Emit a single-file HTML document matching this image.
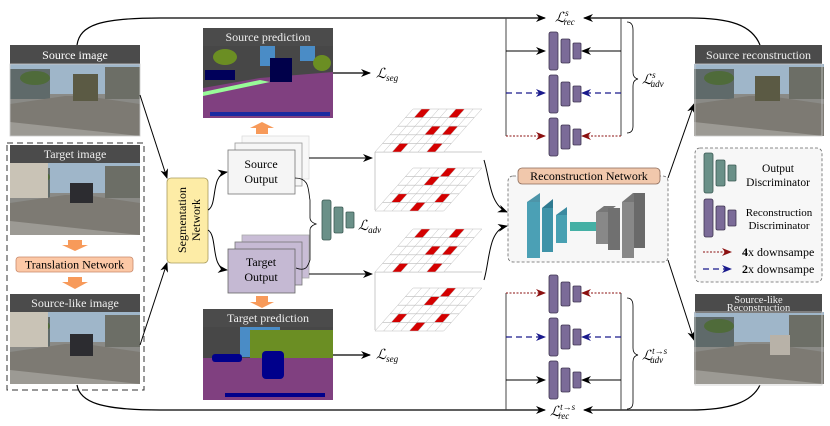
<!DOCTYPE html>
<html><head><meta charset="utf-8"><style>
html,body{margin:0;padding:0;background:#fff;}
svg{display:block;font-family:"Liberation Serif","DejaVu Serif",serif;}
</style></head><body>
<svg width="830" height="426" viewBox="0 0 830 426" xmlns="http://www.w3.org/2000/svg">
<defs>
<marker id="ah" markerWidth="10" markerHeight="8" refX="9" refY="4" orient="auto" markerUnits="userSpaceOnUse"><path d="M0,0 L10,4 L0,8 L3,4z" fill="#000"/></marker>
<marker id="ahb" markerWidth="10" markerHeight="8" refX="9" refY="4" orient="auto" markerUnits="userSpaceOnUse"><path d="M0,0 L10,4 L0,8 L3,4z" fill="#1a1a8c"/></marker>
<marker id="ahr" markerWidth="10" markerHeight="8" refX="9" refY="4" orient="auto" markerUnits="userSpaceOnUse"><path d="M0,0 L10,4 L0,8 L3,4z" fill="#8b1010"/></marker>
<g id="gridlines" stroke="#bbb" stroke-width="0.6" fill="none">
<path d="M0,0H80M0,8.6H80M0,17.2H80M0,25.8H80M0,34.4H80M0,43H80M0,0V43M10,0V43M20,0V43M30,0V43M40,0V43M50,0V43M60,0V43M70,0V43M80,0V43"/>
</g>
<g id="disc" fill="#7b6b98" stroke="#3f3550" stroke-width="0.8">
<rect x="0" y="0" width="9" height="38" rx="2"/><rect x="12" y="7" width="9" height="24" rx="1.5"/><rect x="24" y="11" width="8" height="16" rx="1"/>
</g>
<g id="odisc" fill="#6a9088" stroke="#3c5a54" stroke-width="0.8">
<rect x="0" y="0" width="9" height="40" rx="2"/><rect x="12" y="7" width="9" height="26" rx="1.5"/><rect x="24" y="12" width="8" height="16" rx="1"/>
</g>
<g id="street">
<rect width="130" height="72" fill="#8a8a86"/>
<rect width="130" height="30" fill="#9fb6c9"/>
<rect x="0" y="5" width="40" height="30" fill="#5f6a6a"/>
<rect x="95" y="3" width="35" height="32" fill="#6c6e66"/>
<ellipse cx="25" cy="14" rx="15" ry="7" fill="#4f6b3a"/>
<polygon points="0,72 0,40 55,32 75,32 130,40 130,72" fill="#7d7a73"/>
<polygon points="0,72 0,58 130,72" fill="#9c9a94"/>
</g>
</defs>

<path d="M77,45 C80,25 100,18 160,18 L545,18" stroke="#000" stroke-width="1.2" fill="none" marker-end="url(#ah)"/>
<path d="M760,45 C752,25 730,18 690,18 L584,18" stroke="#000" stroke-width="1.2" fill="none" marker-end="url(#ah)"/>
<path d="M77,385 C80,402 100,410 160,410 L545,410" stroke="#000" stroke-width="1.2" fill="none" marker-end="url(#ah)"/>
<path d="M760,385 C752,402 730,410 690,410 L584,410" stroke="#000" stroke-width="1.2" fill="none" marker-end="url(#ah)"/>

<rect x="10" y="45" width="130" height="19" fill="#4b4b4b"/>
<text x="75" y="59" font-size="12" fill="#fff" text-anchor="middle">Source  image</text>
<use href="#street" x="10" y="64"/>
<rect x="73" y="74" width="25" height="27" fill="#5b5a44"/>
<rect x="10" y="64" width="130" height="72" fill="none" stroke="#ccc" stroke-width="0.8"/>

<rect x="7" y="143" width="137" height="247" fill="none" stroke="#333" stroke-width="1" stroke-dasharray="6,4"/>
<rect x="10" y="145" width="130" height="18" fill="#4b4b4b"/>
<text x="75" y="158" font-size="12" fill="#eee" text-anchor="middle">Target  image</text>
<use href="#street" x="10" y="163"/>
<rect x="10" y="163" width="38" height="35" fill="#c9c3b6"/>
<rect x="70" y="183" width="23" height="20" fill="#2c2c30"/>
<polygon points="68,240 82,240 82,245 88,245 75,251 62,245 68,245" fill="#f79a5a"/>
<rect x="16" y="257" width="117" height="15" rx="3" fill="#fcc8a6" stroke="#c9896a" stroke-width="0.8"/>
<text x="74.5" y="268.5" font-size="12" text-anchor="middle">Translation  Network</text>
<polygon points="68,277 82,277 82,282 88,282 75,289 62,282 68,282" fill="#f79a5a"/>
<rect x="10" y="294" width="130" height="18" fill="#4b4b4b"/>
<text x="75" y="307" font-size="12" fill="#eee" text-anchor="middle">Source-like  image</text>
<use href="#street" x="10" y="312"/>
<rect x="10" y="312" width="38" height="35" fill="#c9c3b6"/>
<rect x="70" y="334" width="23" height="22" fill="#2c2c30"/>

<path d="M140,95 L167,178" stroke="#000" stroke-width="1" fill="none" marker-end="url(#ah)"/>
<path d="M140,345 L167,263" stroke="#000" stroke-width="1" fill="none" marker-end="url(#ah)"/>

<rect x="167" y="178" width="41" height="85" rx="4" fill="#fdeca6" stroke="#a89a5c" stroke-width="0.8"/>
<text transform="translate(186,220) rotate(-90)" font-size="12" text-anchor="middle">Segmentation</text>
<text transform="translate(200,220) rotate(-90)" font-size="12" text-anchor="middle">Network</text>
<path d="M208,210 C218,205 210,175 227,172" stroke="#000" stroke-width="1" fill="none" marker-end="url(#ah)"/>
<path d="M208,230 C218,236 210,268 227,270" stroke="#000" stroke-width="1" fill="none" marker-end="url(#ah)"/>

<rect x="242" y="136" width="67" height="43" fill="#f8f8f8" stroke="#ddd" stroke-width="0.8"/>
<rect x="235" y="143" width="67" height="43" fill="#f6f6f6" stroke="#999" stroke-width="0.8"/>
<rect x="228" y="150" width="67" height="44" fill="#f5f5f5" stroke="#777" stroke-width="0.8"/>
<text x="261" y="168" font-size="12" text-anchor="middle">Source</text>
<text x="261" y="183" font-size="12" text-anchor="middle">Output</text>
<rect x="242" y="235" width="67" height="43" fill="#c9bdd6" stroke="#aaa" stroke-width="0.8"/>
<rect x="235" y="242" width="67" height="43" fill="#c6bad4" stroke="#777" stroke-width="0.8"/>
<rect x="228" y="249" width="67" height="44" fill="#c5b9d3" stroke="#666" stroke-width="0.8"/>
<text x="261" y="266" font-size="12" text-anchor="middle">Target</text>
<text x="261" y="281" font-size="12" text-anchor="middle">Output</text>

<polygon points="256,134 268,134 268,128 274,128 262,122 250,128 256,128" fill="#f79a5a"/>
<polygon points="256,296 268,296 268,302 274,302 262,308 250,302 256,302" fill="#f79a5a"/>

<rect x="203" y="28" width="130" height="18" fill="#4b4b4b"/>
<text x="268" y="41" font-size="12" fill="#eee" text-anchor="middle">Source  prediction</text>
<rect x="203" y="46" width="130" height="72" fill="#474747"/>
<rect x="260" y="46" width="15" height="20" fill="#4a8cc6"/>
<rect x="300" y="46" width="15" height="15" fill="#4a8cc6"/>
<ellipse cx="225" cy="57" rx="12" ry="8" fill="#6b8e23"/>
<ellipse cx="322" cy="63" rx="9" ry="8" fill="#6b8e23"/>
<polygon points="203,118 203,88 260,78 333,72 333,118" fill="#804080"/>
<polygon points="203,92 260,80 270,82 203,96" fill="#98fb98"/>
<rect x="205" y="70" width="30" height="10" fill="#00005a"/>
<rect x="270" y="58" width="22" height="24" fill="#00004a"/>
<rect x="210" y="112" width="120" height="4" fill="#1a2aa0"/>
<path d="M333,73 L370,73" stroke="#000" stroke-width="1.2" marker-end="url(#ah)"/>
<text x="376" y="78" font-size="14" font-style="italic">ℒ<tspan font-size="9" dy="3">seg</tspan></text>

<rect x="203" y="309" width="130" height="18" fill="#4b4b4b"/>
<text x="268" y="322" font-size="12" fill="#eee" text-anchor="middle">Target  prediction</text>
<rect x="203" y="327" width="130" height="73" fill="#474747"/>
<rect x="240" y="327" width="40" height="30" fill="#4a8cc6"/>
<rect x="250" y="330" width="83" height="30" fill="#6b8e23"/>
<rect x="203" y="358" width="130" height="42" fill="#804080"/>
<rect x="212" y="354" width="30" height="8" fill="#00008b" rx="3"/>
<rect x="262" y="351" width="22" height="28" fill="#00008b" rx="4"/>
<rect x="225" y="393" width="100" height="4" fill="#00008b"/>
<path d="M333,355 L370,355" stroke="#000" stroke-width="1.2" marker-end="url(#ah)"/>
<text x="376" y="359" font-size="14" font-style="italic">ℒ<tspan font-size="9" dy="3">seg</tspan></text>

<path d="M295,178 C310,178 308,190 310,200 L310,218 Q310,222 316,224 Q310,226 310,230 L310,260 C308,266 306,272 296,268" stroke="#000" stroke-width="0.8" fill="none"/>
<use href="#odisc" x="322" y="200"/>
<text x="358" y="230" font-size="14" font-style="italic">ℒ<tspan font-size="9" dy="3">adv</tspan></text>

<path d="M309,158 L372,158" stroke="#000" stroke-width="1" marker-end="url(#ah)"/>
<path d="M309,274 L372,274" stroke="#000" stroke-width="1" marker-end="url(#ah)"/>

<!-- grids -->
<path d="M375,152 H482 M375,152 V210" stroke="#bbb" stroke-width="0.8" fill="none"/>
<g transform="translate(413,109) skewX(-41.5) scale(0.86,1)">
<rect width="80" height="43" fill="#fff"/>
<g fill="#d40000"><rect x="10" y="0" width="10" height="8.6"/><rect x="50" y="0" width="10" height="8.6"/><rect x="40" y="17.2" width="10" height="8.6"/><rect x="60" y="17.2" width="10" height="8.6"/><rect x="20" y="34.4" width="10" height="8.6"/><rect x="60" y="34.4" width="10" height="8.6"/></g>
<use href="#gridlines"/></g>
<g transform="translate(413,168) skewX(-41.5) scale(0.86,1)">
<rect width="80" height="43" fill="#fff"/>
<g fill="#d40000"><rect x="40" y="0" width="10" height="8.6"/><rect x="30" y="8.6" width="10" height="8.6"/><rect x="10" y="25.8" width="10" height="8.6"/><rect x="60" y="25.8" width="10" height="8.6"/><rect x="40" y="34.4" width="10" height="8.6"/></g>
<use href="#gridlines"/></g>
<path d="M375,272 H482 M375,272 V330" stroke="#bbb" stroke-width="0.8" fill="none"/>
<g transform="translate(413,229) skewX(-41.5) scale(0.86,1)">
<rect width="80" height="43" fill="#fff"/>
<g fill="#d40000"><rect x="10" y="0" width="10" height="8.6"/><rect x="50" y="0" width="10" height="8.6"/><rect x="40" y="17.2" width="10" height="8.6"/><rect x="60" y="17.2" width="10" height="8.6"/><rect x="20" y="34.4" width="10" height="8.6"/><rect x="60" y="34.4" width="10" height="8.6"/></g>
<use href="#gridlines"/></g>
<g transform="translate(413,288) skewX(-41.5) scale(0.86,1)">
<rect width="80" height="43" fill="#fff"/>
<g fill="#d40000"><rect x="40" y="0" width="10" height="8.6"/><rect x="30" y="8.6" width="10" height="8.6"/><rect x="10" y="25.8" width="10" height="8.6"/><rect x="60" y="25.8" width="10" height="8.6"/><rect x="40" y="34.4" width="10" height="8.6"/></g>
<use href="#gridlines"/></g>

<path d="M484,160 C490,180 490,205 507,212" stroke="#000" stroke-width="1" fill="none" marker-end="url(#ah)"/>
<path d="M484,280 C490,260 488,230 507,226" stroke="#000" stroke-width="1" fill="none" marker-end="url(#ah)"/>

<rect x="508" y="176" width="160" height="86" rx="5" fill="#f7f7f7" stroke="#666" stroke-width="0.8" stroke-dasharray="3,2"/>
<rect x="518" y="168" width="142" height="16" rx="4" fill="#f1c8ac" stroke="#8a6a5a" stroke-width="0.8"/>
<text x="589" y="180" font-size="12" text-anchor="middle">Reconstruction  Network</text>
<g>
<polygon points="527,202 540,193 540,249 527,258" fill="#3a8aa0" opacity="0.9"/>
<rect x="527" y="202" width="13" height="56" fill="#4ba0b5"/>
<polygon points="542,208 553,199 553,243 542,252" fill="#2e7a90"/>
<rect x="542" y="208" width="11" height="44" fill="#3f93a8"/>
<polygon points="556,215 567,207 567,237 556,243" fill="#3a8aa0"/>
<rect x="556" y="215" width="11" height="28" fill="#48a0b2"/>
<polygon points="570,222 600,222 602,220 602,229 600,231 570,231" fill="#45b0a5"/>
<rect x="596" y="212" width="12" height="32" fill="#888"/>
<polygon points="596,212 604,206 616,206 608,212" fill="#777"/>
<rect x="608" y="208" width="12" height="42" fill="#707070"/>
<rect x="622" y="202" width="12" height="56" fill="#888"/>
<polygon points="622,202 634,202 645,193 633,193" fill="#777"/>
<rect x="634" y="193" width="11" height="55" fill="#6a6a6a"/>
</g>
<path d="M668,178 L694,104" stroke="#000" stroke-width="1" marker-end="url(#ah)"/>
<path d="M668,260 L694,340" stroke="#000" stroke-width="1" marker-end="url(#ah)"/>

<path d="M506,18 V136 M621,18 V136" stroke="#444" stroke-width="1" fill="none"/>
<use href="#disc" x="549" y="32"/>
<use href="#disc" x="549" y="75"/>
<use href="#disc" x="549" y="118"/>
<path d="M506,51 L545,51" stroke="#000" stroke-width="1" marker-end="url(#ah)"/>
<path d="M621,51 L582,51" stroke="#000" stroke-width="1" marker-end="url(#ah)"/>
<path d="M506,93 L545,93" stroke="#1a1a8c" stroke-width="1.3" stroke-dasharray="6,4" marker-end="url(#ahb)"/>
<path d="M621,93 L582,93" stroke="#1a1a8c" stroke-width="1.3" stroke-dasharray="6,4" marker-end="url(#ahb)"/>
<path d="M506,136 L545,136" stroke="#8b1010" stroke-width="1" stroke-dasharray="2,1.5" marker-end="url(#ahr)"/>
<path d="M621,136 L582,136" stroke="#8b1010" stroke-width="1" stroke-dasharray="2,1.5" marker-end="url(#ahr)"/>
<path d="M627,22 Q633,22 633,30 L633,72 Q633,78 638,79 Q633,80 633,86 L633,126 Q633,133 627,133" stroke="#000" stroke-width="0.8" fill="none"/>
<text x="555" y="22" font-size="14" font-style="italic">ℒ<tspan font-size="9" dy="-6">s</tspan><tspan font-size="9" dx="-5" dy="9">rec</tspan></text>
<text x="642" y="84" font-size="14" font-style="italic">ℒ<tspan font-size="9" dy="-6">s</tspan><tspan font-size="9" dx="-5" dy="9">adv</tspan></text>

<path d="M506,293 V410 M621,293 V410" stroke="#444" stroke-width="1" fill="none"/>
<use href="#disc" x="549" y="275"/>
<use href="#disc" x="549" y="318"/>
<use href="#disc" x="549" y="361"/>
<path d="M506,293 L545,293" stroke="#8b1010" stroke-width="1" stroke-dasharray="2,1.5" marker-end="url(#ahr)"/>
<path d="M621,293 L582,293" stroke="#8b1010" stroke-width="1" stroke-dasharray="2,1.5" marker-end="url(#ahr)"/>
<path d="M506,337 L545,337" stroke="#1a1a8c" stroke-width="1.3" stroke-dasharray="6,4" marker-end="url(#ahb)"/>
<path d="M621,337 L582,337" stroke="#1a1a8c" stroke-width="1.3" stroke-dasharray="6,4" marker-end="url(#ahb)"/>
<path d="M506,380 L545,380" stroke="#000" stroke-width="1" marker-end="url(#ah)"/>
<path d="M621,380 L582,380" stroke="#000" stroke-width="1" marker-end="url(#ah)"/>
<path d="M627,298 Q633,298 633,306 L633,348 Q633,354 638,355 Q633,356 633,362 L633,402 Q633,409 627,409" stroke="#000" stroke-width="0.8" fill="none"/>
<text x="550" y="416" font-size="14" font-style="italic">ℒ<tspan font-size="9" dy="-6">t→s</tspan><tspan font-size="9" dx="-17" dy="9">rec</tspan></text>
<text x="642" y="360" font-size="14" font-style="italic">ℒ<tspan font-size="9" dy="-6">t→s</tspan><tspan font-size="9" dx="-17" dy="9">adv</tspan></text>

<rect x="695" y="45" width="127" height="19" fill="#4b4b4b"/>
<text x="758.5" y="59" font-size="12" fill="#eee" text-anchor="middle">Source  reconstruction</text>
<use href="#street" x="694" y="64"/>
<rect x="755" y="76" width="25" height="25" fill="#5b5a44"/>
<rect x="695" y="64" width="127" height="72" fill="none" stroke="#ccc" stroke-width="0.8"/>

<rect x="695" y="148" width="127" height="134" rx="5" fill="#f7f7f7" stroke="#666" stroke-width="0.8" stroke-dasharray="3,2"/>
<use href="#odisc" x="704" y="153"/>
<text x="778" y="172" font-size="11.5" text-anchor="middle">Output</text>
<text x="778" y="186" font-size="11.5" text-anchor="middle">Discriminator</text>
<use href="#disc" x="704" y="199"/>
<text x="779" y="216" font-size="11" text-anchor="middle">Reconstruction</text>
<text x="779" y="229" font-size="11" text-anchor="middle">Discriminator</text>
<path d="M703,252 L731,252" stroke="#8b1010" stroke-width="1" stroke-dasharray="2,1.5" marker-end="url(#ahr)"/>
<text x="742" y="256" font-size="12"><tspan font-weight="bold">4</tspan>x  downsampe</text>
<path d="M703,269 L731,269" stroke="#1a1a8c" stroke-width="1.3" stroke-dasharray="6,4" marker-end="url(#ahb)"/>
<text x="742" y="273" font-size="12"><tspan font-weight="bold">2</tspan>x  downsampe</text>

<use href="#street" x="694" y="312"/>
<rect x="770" y="335" width="20" height="20" fill="#b8b2a8"/>
<rect x="695" y="294" width="127" height="19" fill="#4b4b4b"/>
<text x="758.5" y="303" font-size="10.5" fill="#eee" text-anchor="middle">Source-like</text>
<text x="758.5" y="311" font-size="10.5" fill="#eee" text-anchor="middle">Reconstruction</text>
<rect x="695" y="312" width="127" height="73" fill="none" stroke="#ccc" stroke-width="0.8"/>
</svg>
</body></html>
